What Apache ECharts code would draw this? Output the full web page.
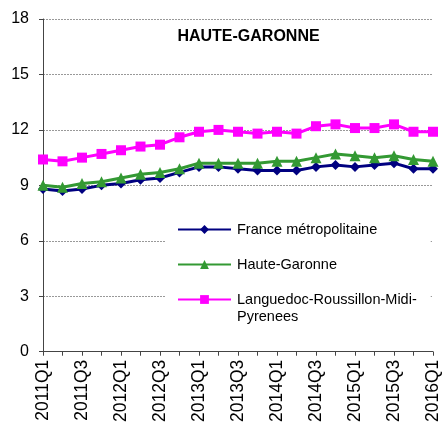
<!DOCTYPE html>
<html><head><meta charset="utf-8">
<script src="https://cdn.jsdelivr.net/npm/echarts@6/dist/echarts.min.js"></script>
<style>html,body{margin:0;padding:0;background:#fff}#c{width:445px;height:425px}</style>
</head><body><div id="c"></div>
<script>
const categories = ['2011Q1','2011Q2','2011Q3','2011Q4','2012Q1','2012Q2','2012Q3','2012Q4','2013Q1','2013Q2','2013Q3','2013Q4','2014Q1','2014Q2','2014Q3','2014Q4','2015Q1','2015Q2','2015Q3','2015Q4','2016Q1'];
const france = [8.8,8.7,8.8,9.0,9.1,9.3,9.4,9.7,10.0,10.0,9.9,9.8,9.8,9.8,10.0,10.1,10.0,10.1,10.2,9.9,9.9];
const hauteGaronne = [9.0,8.9,9.1,9.2,9.4,9.6,9.7,9.9,10.2,10.2,10.2,10.2,10.3,10.3,10.5,10.7,10.6,10.5,10.6,10.4,10.3];
const lrmp = [10.4,10.3,10.5,10.7,10.9,11.1,11.2,11.6,11.9,12.0,11.9,11.8,11.9,11.8,12.2,12.3,12.1,12.1,12.3,11.9,11.9];
const yTicks = [0,3,6,9,12,15,18];
const seriesNames = ['France métropolitaine','Haute-Garonne','Languedoc-Roussillon-Midi-Pyrenees'];
const legendLine3a = 'Languedoc-Roussillon-Midi-';
const legendLine3b = 'Pyrenees';

const chart = echarts.init(document.getElementById('c'), null, {renderer:'canvas'});
const font = 'Arial, "Liberation Sans", sans-serif';
function mk(name, data, color, symbol, size){
  return {name, type:'line', data, symbol, symbolSize:size, showSymbol:true,
    lineStyle:{color, width:3}, itemStyle:{color, borderWidth:0}, emphasis:{disabled:true}, z:3};
}
chart.setOption({
  animation:false,
  title:{text:'HAUTE-GARONNE', left:243.5, top:24, textAlign:'center',
    textStyle:{fontFamily:font, fontSize:16, fontWeight:'bold', color:'#000'}},
  grid:{left:43, right:12, top:19, bottom:72, containLabel:false},
  legend:{orient:'vertical', left:166, top:215, itemWidth:53, itemHeight:11, itemGap:18,
    backgroundColor:'#fff', padding:[6,14,4,11],
    formatter: n => n === seriesNames[2] ? legendLine3a : n,
    textStyle:{fontFamily:font, fontSize:14.5, color:'#000', lineHeight:17, padding:[0,0,0,1]},
    data:seriesNames},
  xAxis:{type:'category', data:categories, boundaryGap:false,
    axisLine:{lineStyle:{color:'#444', width:1}},
    axisTick:{show:true, interval:0, length:4, lineStyle:{color:'#444'}},
    axisLabel:{interval:1, rotate:90, fontFamily:font, fontSize:17.5, color:'#000', margin:8},
    splitLine:{show:false}},
  yAxis:{type:'value', min:yTicks[0], max:yTicks[yTicks.length-1], interval:3,
    axisLine:{show:true, lineStyle:{color:'#444', width:1}},
    axisTick:{show:true, length:4, inside:false, lineStyle:{color:'#444'}},
    axisLabel:{fontFamily:font, fontSize:16, color:'#000', margin:14},
    splitLine:{show:true, lineStyle:{color:'#999', type:[2,1], width:1}}},
  graphic:[{type:'text', left:237, top:309, z:100,
    style:{text:legendLine3b, font:'14.5px ' + font, fill:'#000'}}],
  series:[
    mk(seriesNames[0], france, '#000080', 'diamond', 10),
    mk(seriesNames[1], hauteGaronne, '#339933', 'triangle', 11),
    mk(seriesNames[2], lrmp, '#ff00ff', 'rect', 10)
  ]
});
</script></body></html>
